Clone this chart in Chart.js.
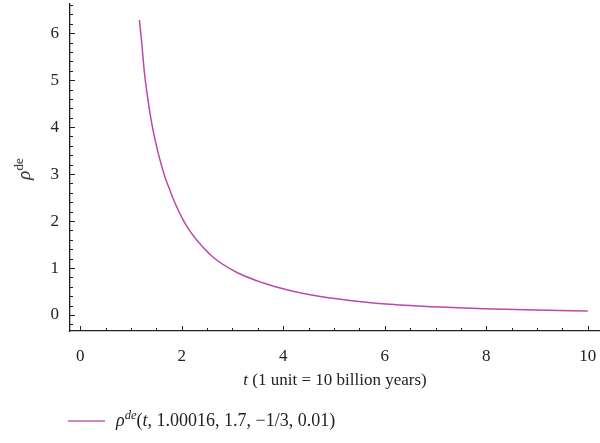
<!DOCTYPE html>
<html lang="en">
<head>
  <meta charset="UTF-8" />
  <title>rho de vs t</title>
  <script src="https://cdn.jsdelivr.net/npm/chart.js"></script>
  <style>
    body {
      margin: 0;
      padding: 0;
      background: #ffffff;
    }

    .wrap {
      position: relative;
      width: 600px;
      height: 443px;
      font-family: 'Liberation Serif', 'DejaVu Serif', serif;
      color: #222;
    }

    .wrap canvas {
      position: absolute;
      left: 0;
      top: 0;
    }

    .ytitle {
      position: absolute;
      left: 24px;
      top: 169px;
      transform: translate(-50%, -50%) rotate(-90deg);
      font-size: 19px;
      white-space: nowrap;
    }

    .xtitle {
      position: absolute;
      left: 335px;
      top: 370px;
      transform: translateX(-50%);
      font-size: 17px;
      white-space: nowrap;
    }

    .legend {
      position: absolute;
      left: 68px;
      top: 410px;
      display: flex;
      align-items: center;
      font-size: 18px;
      white-space: nowrap;
    }

    .legend .swatch {
      width: 37px;
      height: 0;
      border-top: 2px solid #cf86c3;
      margin-right: 11px;
    }

    sup {
      font-size: 0.7em;
      vertical-align: 0.55em;
      line-height: 0;
    }
  </style>
</head>
<body>

<div class="wrap">
  <canvas id="chart" width="600" height="443"></canvas>
  <div class="ytitle"><i>ρ</i><sup>de</sup></div>
  <div class="xtitle"><i>t</i> (1 unit = 10 billion years)</div>
  <div class="legend">
    <span class="swatch"></span>
    <span><i>ρ</i><sup><i>de</i></sup>(<i>t</i>, 1.00016, 1.7, −1/3, 0.01)</span>
  </div>
</div>

<script>
  // values
  const tValues   = [1.167, 1.214, 1.26, 1.325, 1.41, 1.52, 1.67, 1.77, 1.87, 2.03, 2.13, 2.30, 2.62, 3.08, 3.61, 4.13, 4.53, 5.31, 6.10, 7.09, 7.94, 8.99, 10.0];
  const rhoValues = [6.28, 5.78, 5.22, 4.66, 4.08, 3.52, 2.94, 2.65, 2.38, 2.02, 1.84, 1.59, 1.23, 0.91, 0.68, 0.52, 0.43, 0.31, 0.23, 0.17, 0.135, 0.105, 0.085];

  const xTickValues = [0, 2, 4, 6, 8, 10];
  const yTickValues = [0, 1, 2, 3, 4, 5, 6];

  const points = tValues.map((t, i) => ({ x: t, y: rhoValues[i] }));

  // ticks pointing into the plot, major + minor
  const innerTicks = {
    id: 'innerTicks',
    afterDraw(chart) {
      const ctx = chart.ctx;
      const xs = chart.scales.x;
      const ys = chart.scales.y;
      const area = chart.chartArea;
      ctx.save();
      ctx.strokeStyle = '#222';
      ctx.lineWidth = 1;
      ctx.beginPath();
      for (let v = 0; v <= 10.001; v += 0.5) {
        const px = Math.round(xs.getPixelForValue(v)) + 0.5;
        const major = Math.abs(v - Math.round(v / 2) * 2) < 0.01;
        const len = major ? 5 : 3;
        ctx.moveTo(px, area.bottom);
        ctx.lineTo(px, area.bottom - len);
      }
      for (let v = -0.2; v <= 6.61; v += 0.2) {
        const py = Math.round(ys.getPixelForValue(v)) + 0.5;
        const major = Math.abs(v - Math.round(v)) < 0.01;
        const len = major ? 5 : 3;
        ctx.moveTo(area.left, py);
        ctx.lineTo(area.left + len, py);
      }
      ctx.stroke();
      ctx.restore();
    }
  };

  // kill the extra room Chart.js keeps for end labels
  function noPad(s) {
    s.paddingLeft = 0;
    s.paddingRight = 0;
    s.paddingTop = 0;
    s.paddingBottom = 0;
  }

  new Chart(document.getElementById('chart'), {
    type: 'scatter',
    data: {
      datasets: [{
        label: 'rho de',
        data: points,
        showLine: true,
        borderColor: '#b94aa9',
        borderWidth: 1.5,
        pointRadius: 0,
        cubicInterpolationMode: 'monotone',
        fill: false
      }]
    },
    options: {
      responsive: false,
      animation: false,
      layout: { padding: { top: 4, right: 0, left: 0, bottom: 0 } },
      plugins: {
        legend: { display: false },
        tooltip: { enabled: false }
      },
      scales: {
        x: {
          type: 'linear',
          min: -0.2,
          max: 10.24,
          afterFit: (s) => { s.height = 112; noPad(s); },
          afterBuildTicks: (s) => { s.ticks = xTickValues.map(v => ({ value: v })); },
          grid: { display: false },
          border: { display: true, color: '#222', width: 1.3 },
          ticks: {
            color: '#222',
            padding: 7,
            maxRotation: 0,
            font: { family: "'Liberation Serif', serif", size: 17 }
          }
        },
        y: {
          type: 'linear',
          min: -0.34,
          max: 6.62,
          afterFit: (s) => { s.width = 70; noPad(s); },
          afterBuildTicks: (s) => { s.ticks = yTickValues.map(v => ({ value: v })); },
          grid: { display: false },
          border: { display: true, color: '#222', width: 1.3 },
          ticks: {
            color: '#222',
            padding: 3,
            font: { family: "'Liberation Serif', serif", size: 17 }
          }
        }
      }
    },
    plugins: [innerTicks]
  });
</script>

</body>
</html>
